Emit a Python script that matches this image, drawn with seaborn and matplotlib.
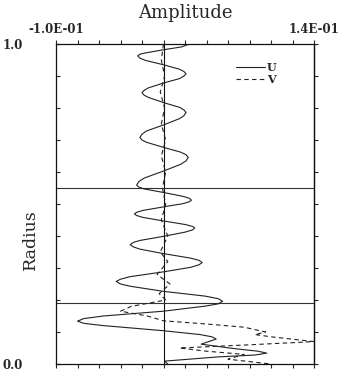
import numpy as np
import pandas as pd
import matplotlib
matplotlib.use("Agg")
import matplotlib.pyplot as plt
import seaborn as sns

# ---- data ----
radius_u = [1.000, 0.991, 0.982, 0.972, 0.968, 0.963,
            0.956, 0.949, 0.935, 0.921, 0.914, 0.907,
            0.900, 0.892, 0.878, 0.863, 0.855, 0.848,
            0.840, 0.833, 0.817, 0.802, 0.794, 0.786,
            0.776, 0.767, 0.747, 0.728, 0.718, 0.708,
            0.700, 0.693, 0.677, 0.662, 0.654, 0.646,
            0.635, 0.624, 0.603, 0.581, 0.570, 0.559,
            0.553, 0.547, 0.536, 0.524, 0.518, 0.512,
            0.507, 0.501, 0.491, 0.480, 0.474, 0.469,
            0.464, 0.458, 0.447, 0.436, 0.430, 0.425,
            0.419, 0.412, 0.399, 0.386, 0.380, 0.373,
            0.366, 0.359, 0.345, 0.331, 0.324, 0.317,
            0.310, 0.302, 0.288, 0.273, 0.265, 0.258,
            0.250, 0.243, 0.227, 0.212, 0.204, 0.196,
            0.188, 0.181, 0.165, 0.150, 0.142, 0.134,
            0.127, 0.120, 0.104, 0.092, 0.085, 0.078,
            0.070, 0.062, 0.048, 0.040, 0.034, 0.028, 0.022, 0.009, 0.000]
u_vals = [0.024, 0.017, 0.000, -0.017, -0.022, -0.024,
          -0.022, -0.017, 0.000, 0.015, 0.019, 0.021,
          0.019, 0.015, 0.000, -0.014, -0.018, -0.020,
          -0.018, -0.014, 0.000, 0.015, 0.019, 0.021,
          0.019, 0.015, 0.000, -0.016, -0.020, -0.022,
          -0.020, -0.016, 0.000, 0.016, 0.021, 0.023,
          0.021, 0.016, 0.000, -0.018, -0.023, -0.025,
          -0.023, -0.018, 0.000, 0.018, 0.024, 0.026,
          0.024, 0.018, 0.000, -0.019, -0.025, -0.027,
          -0.025, -0.019, 0.000, 0.020, 0.027, 0.029,
          0.027, 0.020, 0.000, -0.022, -0.028, -0.031,
          -0.028, -0.022, 0.000, 0.025, 0.033, 0.036,
          0.033, 0.025, 0.000, -0.031, -0.040, -0.044,
          -0.040, -0.031, 0.000, 0.039, 0.051, 0.055,
          0.051, 0.039, 0.000, -0.056, -0.074, -0.080,
          -0.074, -0.056, 0.000, 0.034, 0.045, 0.049,
          0.042, 0.035, 0.066, 0.088, 0.096, 0.085, 0.050, 0.001, 0.004]

radius_v = [1.00, 0.95, 0.90, 0.85, 0.80, 0.75, 0.70, 0.65, 0.60, 0.55, 0.50, 0.45, 0.40, 0.35,
            0.32, 0.28, 0.25, 0.22, 0.20, 0.18, 0.165, 0.15, 0.135, 0.125, 0.115, 0.10, 0.092,
            0.085, 0.07, 0.06, 0.05, 0.04, 0.03, 0.015, 0.00]
v_vals = [0.000, -0.002, 0.001, -0.003, 0.001, -0.002, 0.002, -0.002, 0.002, -0.001, 0.002,
          -0.002, 0.004, -0.003, 0.004, -0.006, 0.006, -0.004, 0.002, -0.030, -0.040, -0.015,
          0.000, 0.040, 0.075, 0.095, 0.085, 0.100, 0.140, 0.080, 0.015, 0.040, 0.075, 0.060, 0.100]

x_ticks = [-0.10, -0.08, -0.06, -0.04, -0.02, 0.00, 0.02, 0.04, 0.06, 0.08, 0.10, 0.12, 0.14]
x_ticklabels = ["-1.0E-01", "", "", "", "", "", "", "", "", "", "", "", "1.4E-01"]
y_ticks = [0.0, 0.1, 0.2, 0.3, 0.4, 0.5, 0.6, 0.7, 0.8, 0.9, 1.0]
y_ticklabels = ["0.0", "", "", "", "", "", "", "", "", "", "1.0"]
hline_radii = [0.55, 0.19]

# ---- build figure ----
sns.set_style("ticks")
plt.rcParams['font.family'] = ['DejaVu Serif']

W, H = 341, 373
fig = plt.figure(figsize=(W / 100, H / 100), dpi=100)
L, R, T, B = 56, 314, 44, 364
ax = fig.add_axes([L / W, 1 - B / H, (R - L) / W, (B - T) / H])

df = pd.concat([
    pd.DataFrame({"Radius": radius_u, "Amplitude": u_vals, "series": "U"}),
    pd.DataFrame({"Radius": radius_v, "Amplitude": v_vals, "series": "V"}),
], ignore_index=True)

sns.lineplot(data=df, x="Amplitude", y="Radius", hue="series", style="series",
             sort=False, estimator=None, orient="y",
             palette={"U": "#222222", "V": "#222222"},
             dashes={"U": "", "V": (4, 3)}, linewidth=0.8, ax=ax)

ax.axvline(0, color="#111111", lw=0.8, zorder=1)
for r in hline_radii:
    ax.axhline(r, color="#333333", lw=0.8, zorder=1)

ax.set_xlim(-0.10, 0.14)
ax.set_ylim(0.0, 1.0)

ax.set_xticks(x_ticks)
ax.set_xticklabels(x_ticklabels)
ax.tick_params(axis="x", top=True, bottom=True, labeltop=True, labelbottom=False,
               direction="out", length=3, width=0.8, labelsize=8.5, pad=3)
ax.set_yticks(y_ticks)
ax.set_yticklabels(y_ticklabels)
ax.tick_params(axis="y", left=True, right=False, direction="in", length=3, width=0.8,
               labelsize=8.5, pad=24)
for lab in ax.get_yticklabels() + ax.get_xticklabels():
    lab.set_fontweight("bold")

sec = ax.secondary_yaxis("right")
sec.set_yticks(y_ticks)
sec.tick_params(direction="out", length=3, width=0.8, labelright=False)

for s in ax.spines.values():
    s.set_linewidth(0.9)
    s.set_color("#111111")
for s in sec.spines.values():
    s.set_linewidth(0.9)

ax.set_xlabel("")
ax.set_ylabel("")
fig.text((L + R) / 2 / W, 1 - 13 / H, "Amplitude", ha="center", va="center", fontsize=13)
fig.text(30 / W, 1 - 240 / H, "Radius", ha="center", va="center", rotation=90, fontsize=12.5)

handles, labels = ax.get_legend_handles_labels()
ax.legend(handles=handles, labels=labels, loc="upper left",
          bbox_to_anchor=((236 - L) / (R - L), 1 - (62 - T) / (B - T)),
          frameon=False, handlelength=2.6, handletextpad=0.2, labelspacing=0.05,
          borderpad=0, borderaxespad=0,
          prop={"size": 8, "weight": "bold"})

fig.savefig("out.png", dpi=100)
